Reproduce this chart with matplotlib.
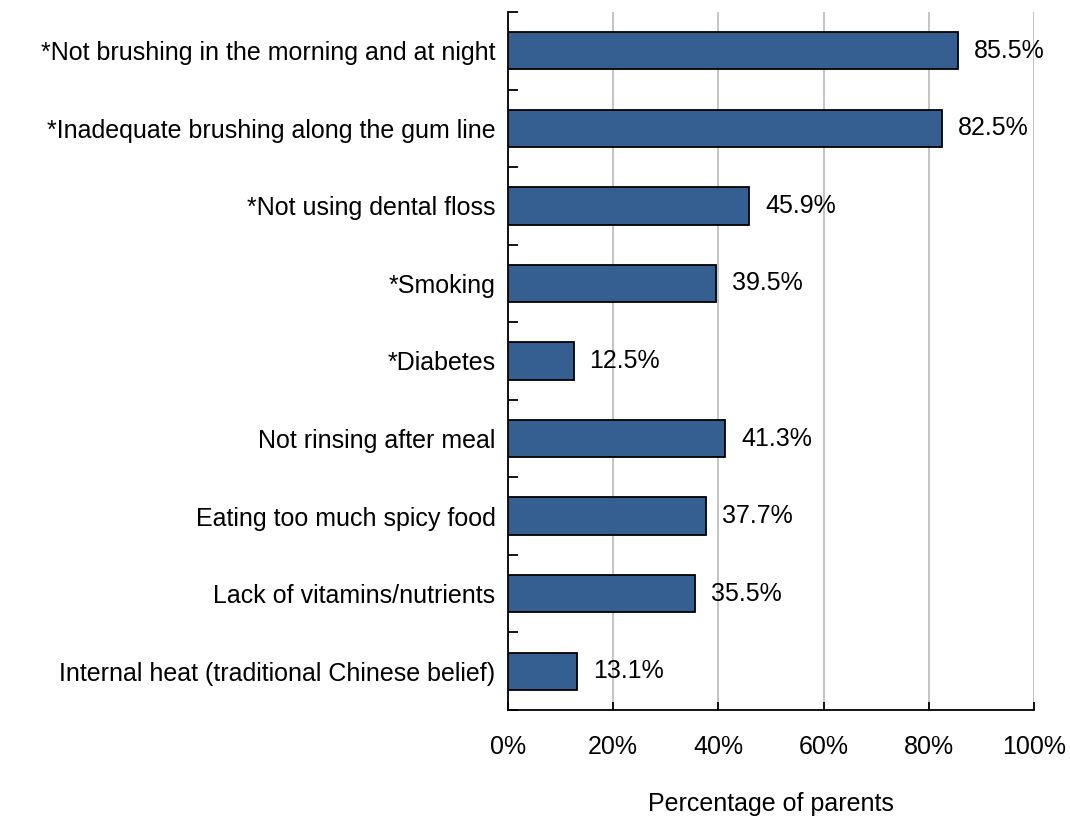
import numpy as np
import matplotlib.pyplot as plt

plt.rcParams['font.family'] = ['Liberation Sans', 'DejaVu Sans']

categories = [
    "*Not brushing in the morning and at night",
    "*Inadequate brushing along the gum line",
    "*Not using dental floss",
    "*Smoking",
    "*Diabetes",
    "Not rinsing after meal",
    "Eating too much spicy food",
    "Lack of vitamins/nutrients",
    "Internal heat (traditional Chinese belief)",
]
values = [85.5, 82.5, 45.9, 39.5, 12.5, 41.3, 37.7, 35.5, 13.1]

fs = 18

fig = plt.figure(figsize=(10.7, 8.17), dpi=100)
ax = fig.add_axes([0.4748, 0.131, 0.4916, 0.8543])

y = np.arange(len(categories))
ax.barh(y, values, height=0.48, color='#365F91', edgecolor='black', linewidth=1.3, zorder=3)

for yi, v in zip(y, values):
    ax.text(v + 3, yi, f"{v:.1f}%", va='center', ha='left', fontsize=fs, zorder=4)

ax.set_xlim(0, 100)
ax.set_ylim(len(categories) - 0.5, -0.5)
ax.set_xticks(np.arange(0, 101, 20))
ax.set_xticklabels([f"{t}%" for t in range(0, 101, 20)], fontsize=fs)
ax.set_yticks(y)
ax.set_yticklabels(categories, fontsize=fs)
ax.set_yticks(np.arange(-0.5, len(categories), 1), minor=True)
ax.tick_params(axis='y', which='major', length=0, pad=9)
ax.tick_params(axis='y', which='minor', direction='in', length=7, width=1.3)
ax.tick_params(axis='x', direction='in', length=6, width=1.3, pad=18)

ax.grid(axis='x', color='#BFBFBF', linewidth=1.3, zorder=0)
ax.spines['top'].set_visible(False)
ax.spines['right'].set_visible(False)
ax.spines['left'].set_linewidth(1.3)
ax.spines['bottom'].set_linewidth(1.3)

ax.set_xlabel("Percentage of parents", fontsize=fs, labelpad=24)

fig.savefig("out.png", dpi=100)
